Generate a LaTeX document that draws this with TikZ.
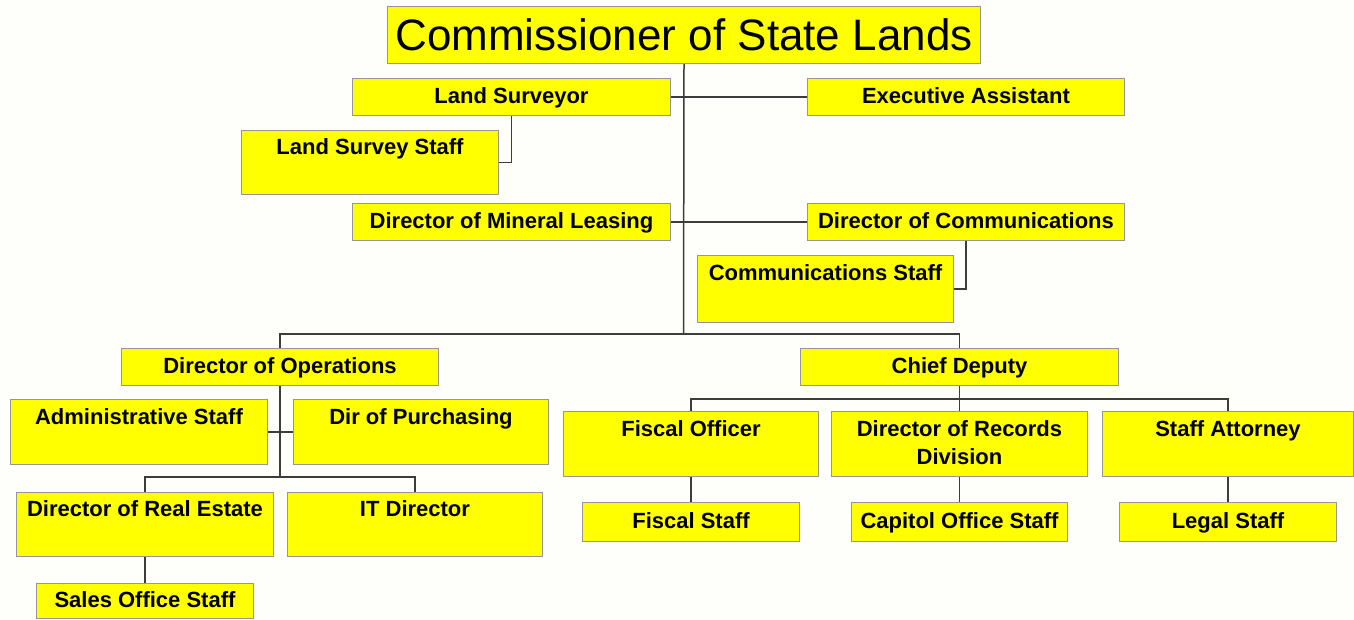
\documentclass[tikz,border=0pt]{standalone}
\usepackage{fontspec}
\setmainfont{Liberation Sans}
\definecolor{postyellow}{RGB}{255,255,0}
\definecolor{postedge}{RGB}{150,150,150}
\definecolor{linegray}{RGB}{60,60,60}
\definecolor{paper}{RGB}{254,254,250}
\tikzset{
  post/.style={draw=postedge, line width=1pt, fill=postyellow, anchor=north west, inner sep=0pt,
    font=\bfseries\fontsize{22}{28}\selectfont, text height=17pt, text depth=5pt, align=center,
    minimum height=37},
  tall/.style={minimum height=65, text depth=33pt},
  link/.style={draw=linegray, line width=1.5pt},
}
\begin{document}
\begin{tikzpicture}[x=1pt,y=-1pt]
\useasboundingbox[fill=paper] (0,0) rectangle (1354,619);
\node[post, font=\fontsize{44}{48}\selectfont, minimum width=593, minimum height=57, text height=36pt, text depth=5pt] (commissioner) at (387,6) {Commissioner of State Lands};
\node[post, minimum width=318] (surveyor) at (352,78) {Land Surveyor};
\node[post, minimum width=317] (assistant) at (807,78) {Executive Assistant};
\node[post, tall, minimum width=257, minimum height=64] (surveystaff) at (241,130) {Land Survey Staff};
\node[post, minimum width=318] (mineral) at (352,203) {Director of Mineral Leasing};
\node[post, minimum width=317] (communications) at (807,203) {Director of Communications};
\node[post, tall, minimum width=256, minimum height=67, text depth=35pt] (commstaff) at (697,255) {Communications Staff};
\node[post, minimum width=317] (operations) at (121,348) {Director of Operations};
\node[post, minimum width=318] (deputy) at (800,348) {Chief Deputy};
\node[post, tall, minimum width=257] (adminstaff) at (10,399) {Administrative Staff};
\node[post, tall, minimum width=255] (purchasing) at (293,399) {Dir of Purchasing};
\node[post, tall, minimum width=257, minimum height=64] (realestate) at (16,492) {Director of Real Estate};
\node[post, tall, minimum width=255, minimum height=64] (itdirector) at (287,492) {IT Director};
\node[post, minimum width=217, minimum height=35] (salesstaff) at (36,583) {Sales Office Staff};
\node[post, tall, minimum width=255] (fiscal) at (563,411) {Fiscal Officer};
\node[post, tall, minimum width=256, text height=45pt, text depth=5pt] (records) at (831,411) {Director of Records\\Division};
\node[post, tall, minimum width=251] (attorney) at (1102,411) {Staff Attorney};
\node[post, minimum width=217, minimum height=39] (fiscalstaff) at (582,502) {Fiscal Staff};
\node[post, minimum width=216, minimum height=39] (capitolstaff) at (851,502) {Capitol Office Staff};
\node[post, minimum width=217, minimum height=39] (legalstaff) at (1119,502) {Legal Staff};
\coordinate (trunk) at (683.5,334);
\coordinate (opsjoin) at (operations.south |- 0,477);
\coordinate (deputyjoin) at (deputy.south |- 0,399);
\draw[link] (commissioner.south) -- (trunk);
\draw[link] (operations.north) |- (trunk) -| (deputy.north);
\draw[link] (surveyor.east) -- (assistant.west);
\draw[link] (mineral.east) -- (communications.west);
\draw[link] (surveyor.south) |- (surveystaff.east);
\draw[link] (communications.south) |- (commstaff.east);
\draw[link] (operations.south) -- (opsjoin);
\draw[link] (adminstaff.east) -- (purchasing.west);
\draw[link] (realestate.north) |- (opsjoin) -| (itdirector.north);
\draw[link] (realestate.south) -- (salesstaff.north);
\draw[link] (deputy.south) -- (records.north);
\draw[link] (fiscal.north) |- (deputyjoin) -| (attorney.north);
\draw[link] (fiscal.south) -- (fiscalstaff.north);
\draw[link] (records.south) -- (capitolstaff.north);
\draw[link] (attorney.south) -- (legalstaff.north);
\end{tikzpicture}
\end{document}
